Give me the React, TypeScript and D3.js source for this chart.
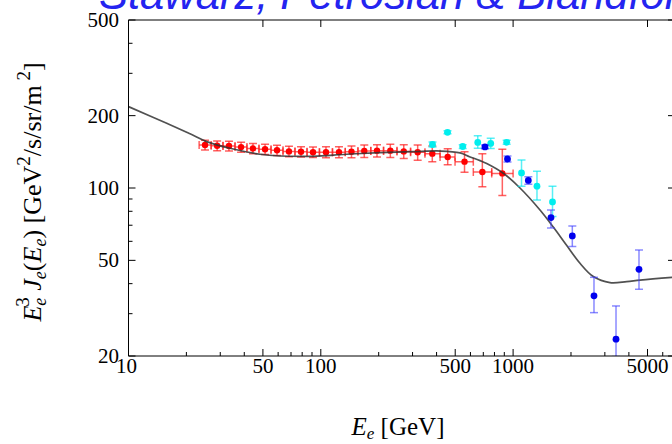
import React from "react";
import * as d3 from "d3";

// ---------- data ----------
const redE = [25.0, 28.9, 33.3, 38.5, 44.4, 51.3, 59.2, 68.3, 78.9, 91.1, 106.4, 124.3, 144.4, 168.3, 196, 229.9, 270, 319, 380, 457, 559, 692, 879];
const redV = [151, 150, 149.5, 148, 146, 145, 143.5, 142, 141.5, 141, 141, 141, 141.5, 142.5, 143, 143, 142, 140.8, 139, 134.6, 128.7, 116.6, 115];
const redLo = [144, 143, 142.5, 141, 139, 138, 136.5, 135, 134.5, 134, 133.5, 133.5, 133.5, 134, 134.5, 134, 132.5, 130.5, 128.5, 124.8, 116.3, 101.3, 93];
const redHi = [158, 157, 156.5, 155, 153, 152, 150.5, 149, 148.5, 148, 148.5, 148.5, 149.5, 151, 151.5, 152, 151.5, 151, 149.5, 145.7, 141.6, 139, 145];
const redEdges = [23.3, 26.9, 31.0, 35.8, 41.3, 47.7, 55.1, 63.6, 73.4, 84.8, 98.4, 115, 134, 156, 182, 212, 249, 293, 348, 417, 499, 621, 774, 1000];

const cyanE = [381, 456, 547, 655, 765, 926, 1106, 1331, 1603];
const cyanV = [151.7, 170.5, 148.8, 154.7, 153.2, 154.9, 115.5, 101.8, 87.5];
const cyanLo = [148, 168, 146, 146.3, 146, 152, 101.7, 89.1, 76.1];
const cyanHi = [155.5, 173, 151.5, 165, 161, 158, 130.8, 117.4, 101.8];

const blueE = [714, 935, 1200, 1574, 2032, 2634, 3429, 4515];
const blueV = [148.2, 132, 107.5, 75.3, 63.2, 35.6, 23.5, 45.9];
const blueLo = [145.5, 128.2, 103.6, 68.2, 57.1, 30.3, 19.9, 37.9];
const blueHi = [151, 135.9, 111.4, 81, 69.5, 42.5, 32.3, 55.2];

const curveE = [10, 15.8, 20.9, 25.5, 33.7, 48.3, 61.4, 91, 136, 203, 300, 420, 530, 593, 673, 729, 889, 1086, 1380, 1618, 1893, 2228, 2613, 3190, 3897, 4571, 6706, 10000];
const curveV = [218, 186, 168, 156, 146.3, 138.2, 135.9, 135.5, 138.2, 140.3, 141.6, 142.5, 140, 135, 130, 126.5, 115.2, 100, 81, 68.8, 57.9, 48.6, 42.8, 40.4, 40.8, 41.4, 42.5, 43.5];

const xTickLabels = [10, 50, 100, 500, 1000, 5000];
const xMinorTicks = [20, 30, 40, 60, 70, 80, 90, 200, 300, 400, 600, 700, 800, 900, 2000, 3000, 4000, 6000];
const yTickLabels = [20, 50, 100, 200, 500];
const yMinorTicks = [30, 40, 60, 70, 80, 90, 300, 400];

const TITLE = "Stawarz, Petrosian & Blandford";

// ---------- layout ----------
const W = 672;
const H = 444;
const X0 = 128.5;
const DEC = 192.3;
const XMAX = 6950;
const x = d3.scaleLog().domain([10, XMAX]).range([X0, X0 + Math.log10(XMAX / 10) * DEC]);
const y = d3.scaleLog().domain([20, 500]).range([356, 20]);

const SERIF = "'Liberation Serif', 'Times New Roman', serif";

function ErrPoints({ E, V, Lo, Hi, color, barColor, r, edges, cap }: any) {
  return (
    <g>
      {E.map((e: number, i: number) => {
        const cx = x(e);
        const cy = y(V[i]);
        const y1 = y(Hi[i]);
        const y2 = y(Lo[i]);
        return (
          <g key={"b" + i} stroke={barColor} strokeWidth={1.5} fill="none">
            <line x1={cx} x2={cx} y1={y1} y2={y2} />
            <line x1={cx - cap} x2={cx + cap} y1={y1} y2={y1} />
            <line x1={cx - cap} x2={cx + cap} y1={y2} y2={y2} />
            {edges ? (
              <>
                <line x1={x(edges[i])} x2={x(edges[i + 1])} y1={cy} y2={cy} />
                <line x1={x(edges[i])} x2={x(edges[i])} y1={cy - 4} y2={cy + 4} />
                <line x1={x(edges[i + 1])} x2={x(edges[i + 1])} y1={cy - 4} y2={cy + 4} />
              </>
            ) : null}
          </g>
        );
      })}
      {E.map((e: number, i: number) => (
        <circle key={"c" + i} cx={x(e)} cy={y(V[i])} r={r} fill={color} />
      ))}
    </g>
  );
}

export default function App() {
  const line = d3
    .line<number>()
    .x((d) => x(d))
    .y((_, i) => y(curveV[i]))
    .curve(d3.curveCatmullRom.alpha(0.5));
  const curvePath = line(curveE) || "";

  const yBot = y(20);
  const yTop = y(500);
  const XR = x(XMAX);

  return (
    <svg
      width={W}
      height={H}
      viewBox={`0 0 ${W} ${H}`}
      style={{ position: "absolute", left: 0, top: 0, background: "#fff" }}
    >
      <rect x={0} y={0} width={W} height={H} fill="#fff" />
      <defs>
        <clipPath id="plotClip">
          <rect x={X0} y={yTop} width={XR - X0} height={yBot - yTop} />
        </clipPath>
      </defs>

      {/* title */}
      <text
        x={99}
        y={9}
        fill="#2424f0"
        fontFamily="'Liberation Sans', Arial, sans-serif"
        fontStyle="italic"
        fontSize={43.5}
      >
        {TITLE}
      </text>

      {/* data */}
      <g clipPath="url(#plotClip)">
        <ErrPoints E={redE} V={redV} Lo={redLo} Hi={redHi} edges={redEdges} color="#ff0000" barColor="rgba(255,30,30,0.7)" r={3.2} cap={4} />
        <path d={curvePath} fill="none" stroke="#333" strokeOpacity={0.85} strokeWidth={1.7} />
        <ErrPoints E={cyanE} V={cyanV} Lo={cyanLo} Hi={cyanHi} color="#00eeee" barColor="rgba(0,230,240,0.65)" r={3.4} cap={4} />
        <ErrPoints E={blueE} V={blueV} Lo={blueLo} Hi={blueHi} color="#0000ee" barColor="rgba(60,60,255,0.6)" r={3.4} cap={4} />
      </g>

      {/* frame */}
      <g stroke="#000" strokeWidth={1} fill="none">
        <line x1={X0} x2={XR} y1={yBot} y2={yBot} />
        <line x1={X0} x2={XR} y1={yTop} y2={yTop} />
        <line x1={X0} x2={X0} y1={yTop} y2={yBot} />
        <line x1={XR} x2={XR} y1={yTop} y2={yBot} />
        {xTickLabels.map((v) => (
          <g key={"xt" + v}>
            <line x1={x(v)} x2={x(v)} y1={yBot} y2={yBot - 7} />
            <line x1={x(v)} x2={x(v)} y1={yTop} y2={yTop + 7} />
          </g>
        ))}
        {xMinorTicks.map((v) => (
          <line key={"xm" + v} x1={x(v)} x2={x(v)} y1={yBot} y2={yBot - 4} />
        ))}
        {yTickLabels.map((v) => (
          <g key={"yt" + v}>
            <line x1={X0} x2={X0 + 7} y1={y(v)} y2={y(v)} />
            <line x1={XR} x2={XR - 7} y1={y(v)} y2={y(v)} />
          </g>
        ))}
        {yMinorTicks.map((v) => (
          <line key={"ym" + v} x1={X0} x2={X0 + 4} y1={y(v)} y2={y(v)} />
        ))}
      </g>

      {/* tick labels */}
      <g fontFamily={SERIF} fontSize={21} fill="#000">
        {xTickLabels.map((v) => (
          <text key={"xl" + v} x={x(v) - (v === 10 ? 2 : 0)} y={373} textAnchor="middle">
            {v}
          </text>
        ))}
        {yTickLabels.map((v) => (
          <text key={"yl" + v} x={119} y={y(v) + 7} textAnchor="end">
            {v}
          </text>
        ))}
      </g>

      {/* axis labels */}
      <text x={398} y={435} textAnchor="middle" fontFamily={SERIF} fontSize={25} fill="#000">
        <tspan fontStyle="italic">E</tspan>
        <tspan fontStyle="italic" fontSize={17} dy={4}>e</tspan>
        <tspan dy={-4}> [GeV]</tspan>
      </text>

      <text
        transform="translate(41,192) rotate(-90)"
        textAnchor="middle"
        fontFamily={SERIF}
        fontSize={26}
        fill="#000"
      >
        <tspan fontStyle="italic">E</tspan>
        <tspan fontStyle="italic" fontSize={18} dy={5}>e</tspan>
        <tspan fontSize={19} dy={-17} dx={-9}>3</tspan>
        <tspan fontStyle="italic" dy={12}> J</tspan>
        <tspan fontStyle="italic" fontSize={18} dy={5}>e</tspan>
        <tspan dy={-5}>(</tspan>
        <tspan fontStyle="italic">E</tspan>
        <tspan fontStyle="italic" fontSize={18} dy={5}>e</tspan>
        <tspan dy={-5}>) [GeV</tspan>
        <tspan fontSize={19} dy={-11}>2</tspan>
        <tspan dy={11}>/s/sr/m</tspan>
        <tspan fontSize={19} dy={-11}> 2</tspan>
        <tspan dy={11}>]</tspan>
      </text>
    </svg>
  );
}
